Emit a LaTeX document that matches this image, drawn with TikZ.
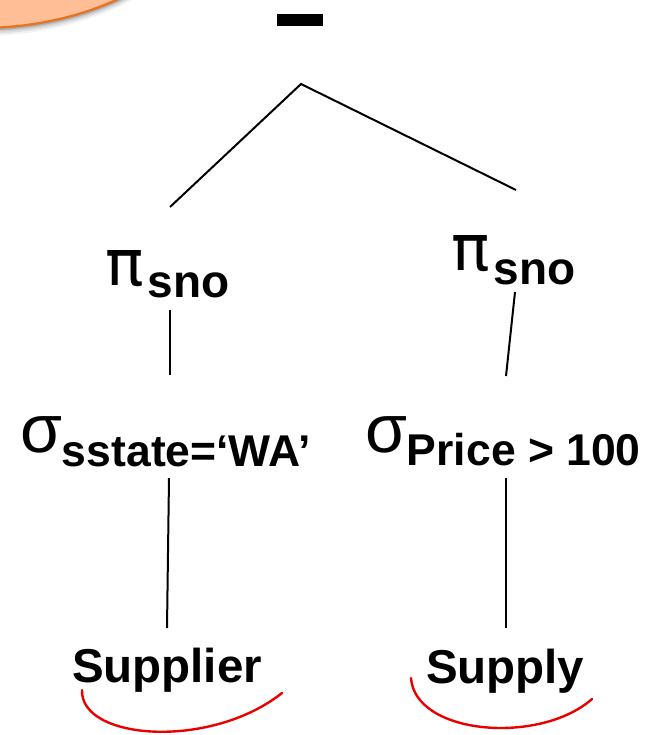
\documentclass[tikz,border=0pt]{standalone}
\usepackage{fontspec}
\setmainfont{Liberation Sans}
\newfontfamily\pifont{DejaVu Sans}
\definecolor{bubblefill}{RGB}{255,190,150}
\definecolor{bubbleline}{RGB}{232,115,30}
\definecolor{markred}{RGB}{235,0,0}
\newcommand{\greekbig}{\rmfamily\fontsize{68}{68}\selectfont}
\newcommand{\pibig}{\pifont\fontsize{64}{64}\selectfont}
\newcommand{\subbig}{\rmfamily\fontsize{46}{46}\selectfont\bfseries}
\newcommand{\subsmall}{\rmfamily\fontsize{44.5}{44.5}\selectfont\bfseries}
\newcommand{\relbig}{\rmfamily\fontsize{47.5}{47.5}\selectfont\bfseries}
\tikzset{
  edge/.style={line width=2pt, black},
  txtlabel/.style={anchor=base west, inner sep=0pt, outer sep=0pt},
  redmark/.style={line width=2.4pt, markred, line cap=round},
}
\begin{document}
\begin{tikzpicture}[x=1pt,y=-1pt]
\useasboundingbox (0,0) rectangle (658,735);
% orange bubble with soft shadow
\begin{scope}
\clip (0,0) rectangle (658,735);
\foreach \o/\a in {8/0.05,6/0.08,4/0.1,2.5/0.14}{
  \fill[black, opacity=\a] (-20,-146+\o) ellipse [x radius=250, y radius=174];
}
\fill[bubblefill] (-20,-146) ellipse [x radius=250, y radius=174];
\draw[bubbleline, line width=2.2pt] (-20,-146) ellipse [x radius=250, y radius=174];
\end{scope}
% minus sign
\node[fill=black, minimum width=46pt, minimum height=12pt, inner sep=0pt] (minus) at (300,20) {};
% labels
\node[txtlabel] (pi1) at (105,285) {\pibig π\kern4pt\raisebox{-12pt}{\subbig sno}};
\node[txtlabel] (pi2) at (451,270) {\pibig π\kern4pt\raisebox{-14pt}{\subbig sno}};
\node[txtlabel] (sig1) at (20,452) {\greekbig σ\raisebox{-14pt}{\subsmall sstate=‘WA’}};
\node[txtlabel] (sig2) at (365,452) {\greekbig σ\raisebox{-13pt}{\subsmall Price > 100}};
\node[txtlabel] (supplier) at (72,682) {\relbig Supplier};
\node[txtlabel] (supply) at (426,683) {\relbig Supply};
% connector end points
\coordinate (apex) at (301,84);
\coordinate (pi1top) at (170,207);
\coordinate (pi2top) at (516,190);
\coordinate (pi1bot) at (170,310);
\coordinate (sig1top) at (170,375);
\coordinate (pi2bot) at (515,292);
\coordinate (sig2top) at (506,376);
\coordinate (sig1bot) at (169,478);
\coordinate (supplierTop) at (167,628);
\coordinate (sig2bot) at (506,478);
\coordinate (supplyTop) at (506,628);
\draw[edge] (pi1top) -- (apex) -- (pi2top);
\draw[edge] (pi1bot) -- (sig1top);
\draw[edge] (pi2bot) -- (sig2top);
\draw[edge] (sig1bot) -- (supplierTop);
\draw[edge] (sig2bot) -- (supplyTop);
% red underline marks
\draw[redmark] (82,690) .. controls (80,740) and (210,750) .. (282,693);
\draw[redmark] (411,678) .. controls (415,735) and (540,745) .. (592,699);
\end{tikzpicture}
\end{document}
